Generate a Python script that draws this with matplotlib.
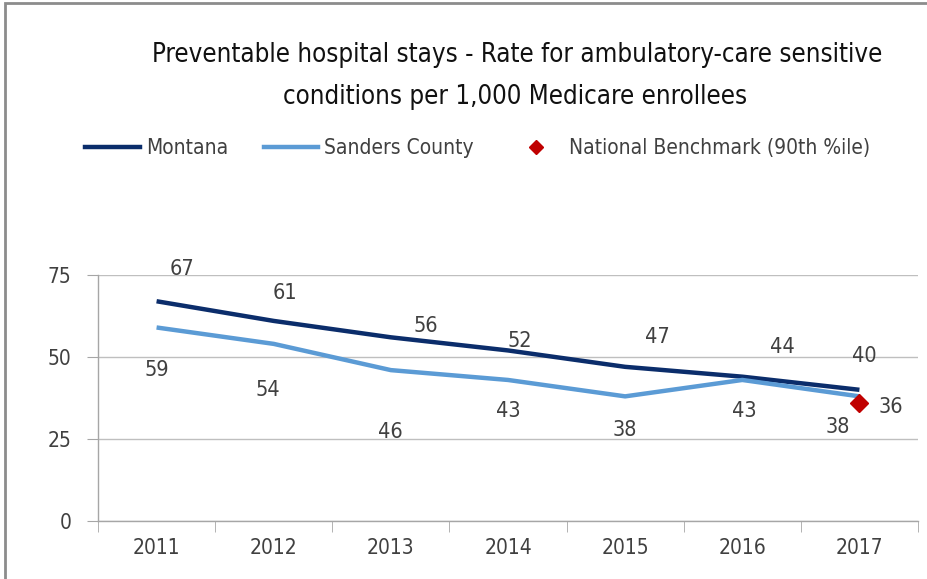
import numpy as np
import matplotlib
matplotlib.use("Agg")
import matplotlib.pyplot as plt
from matplotlib.lines import Line2D
from matplotlib.patches import Rectangle

plt.rcParams['font.family'] = ['DejaVu Sans']
plt.rcParams['font.stretch'] = 'condensed'

years = ['2011', '2012', '2013', '2014', '2015', '2016', '2017']
montana = [67, 61, 56, 52, 47, 44, 40]
sanders = [59, 54, 46, 43, 38, 43, 38]
benchmark_year = '2017'
benchmark = 36

# label nudges (pixels)
mt_off = [(25, 32), (11, 28), (35, 11), (12, 9), (32, 30), (40, 30), (5, 34)]
sc_off = [(0, -43), (-6, -46), (0, -62), (0, -31), (0, -34), (2, -31), (-22, -31)]

navy = '#0B2D6B'
light = '#5B9BD5'
red = '#C00000'
txt = '#404040'
grid = '#BFBFBF'

fig = plt.figure(figsize=(9.27, 5.79), dpi=100)
ax = fig.add_axes([98 / 927, 1 - 521 / 579, 820 / 927, 246 / 579])

x = np.arange(len(years))
ax.plot(x, montana, color=navy, lw=3.2, solid_capstyle='butt')
ax.plot(x, sanders, color=light, lw=3.2, solid_capstyle='butt')
bx = years.index(benchmark_year)
ax.plot([bx], [benchmark], marker='D', color=red, ms=9, ls='none')

for i, v in enumerate(montana):
    ax.annotate(str(v), (x[i], v), xytext=mt_off[i], textcoords='offset pixels',
                ha='center', va='center', fontsize=15.5, color=txt)
for i, v in enumerate(sanders):
    ax.annotate(str(v), (x[i], v), xytext=sc_off[i], textcoords='offset pixels',
                ha='center', va='center', fontsize=15.5, color=txt)
ax.annotate(str(benchmark), (bx, benchmark), xytext=(31, -4), textcoords='offset pixels',
            ha='center', va='center', fontsize=15.5, color=txt)

ax.set_xlim(-0.5, len(years) - 0.5)
ax.set_ylim(0, 75)
ax.set_yticks([0, 25, 50, 75])
ax.set_xticks(x)
ax.set_xticklabels(years)
ax.set_xticks(np.arange(-0.5, len(years)), minor=True)
ax.tick_params(axis='x', which='major', length=0, pad=12, labelsize=15, labelcolor=txt)
ax.tick_params(axis='x', which='minor', length=8, color='#A6A6A6', direction='out')
ax.tick_params(axis='y', length=8, color='#A6A6A6', pad=11, labelsize=15, labelcolor=txt)
ax.grid(axis='y', color=grid, lw=1)
ax.set_axisbelow(True)
for s in ['top', 'right']:
    ax.spines[s].set_visible(False)
for s in ['left', 'bottom']:
    ax.spines[s].set_color('#A6A6A6')
    ax.spines[s].set_linewidth(1)

fig.text(517 / 927, 1 - 55 / 579, 'Preventable hospital stays - Rate for ambulatory-care sensitive',
         ha='center', va='center', fontsize=18.5, color='#111111')
fig.text(515 / 927, 1 - 97 / 579, 'conditions per 1,000 Medicare enrollees',
         ha='center', va='center', fontsize=18.5, color='#111111')

handles = [Line2D([], [], color=navy, lw=3.2),
           Line2D([], [], color=light, lw=3.2),
           Line2D([], [], color=red, marker='D', ms=7, ls='none')]
fig.legend(handles, ['Montana', 'Sanders County', 'National Benchmark (90th %ile)'],
           loc='center', bbox_to_anchor=(478 / 927, 1 - 148 / 579), ncol=3, frameon=False,
           fontsize=15, labelcolor=txt, handlelength=2.6, handletextpad=0.3, columnspacing=1.7)

# grey frame around the chart area (cut off on right and bottom)
fig.patches.append(Rectangle((5 / 927, -0.1), 1.2, 1 - 3 / 579 + 0.1, transform=fig.transFigure,
                             fill=False, edgecolor='#8C8C8C', lw=2))

fig.savefig('out.png', dpi=100, facecolor='white')
